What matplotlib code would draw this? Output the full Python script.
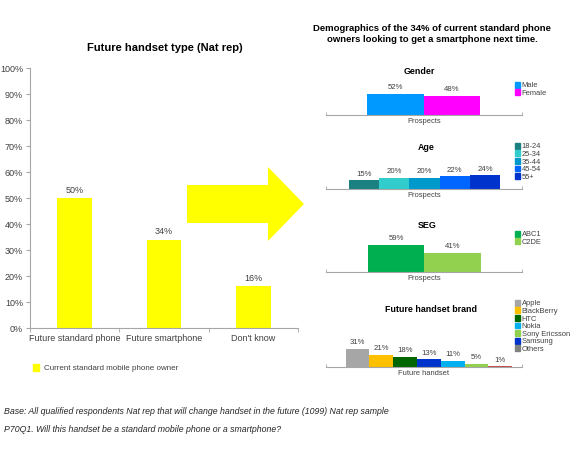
import matplotlib
matplotlib.use("Agg")
import matplotlib.pyplot as plt
from matplotlib.patches import Polygon, Patch

plt.rcParams['font.family'] = ['Liberation Sans', 'DejaVu Sans']

W, H = 570, 450

# Main chart data
main_categories = ["Future standard phone", "Future smartphone", "Don't know"]
main_values = [50, 34, 16]
main_series = "Current standard mobile phone owner"

# Demographic breakdowns
gender_labels = ["Male", "Female"]
gender_values = [52, 48]
gender_colors = ["#0099FF", "#FF00FF"]

age_labels = ["18-24", "25-34", "35-44", "45-54", "55+"]
age_values = [15, 20, 20, 22, 24]
age_colors = ["#1A8080", "#33CCCC", "#0099CC", "#0066FF", "#0033CC"]

seg_labels = ["ABC1", "C2DE"]
seg_values = [59, 41]
seg_colors = ["#00B050", "#92D050"]

brand_bar_values = [31, 21, 18, 13, 11, 5, 1]
brand_bar_colors = ["#A6A6A6", "#FFC000", "#006600", "#0033CC", "#00B0F0", "#92D050", "#C0504D"]
brand_labels = ["Apple", "BlackBerry", "HTC", "Nokia", "Sony Ericsson", "Samsung", "Others"]
brand_colors = ["#A6A6A6", "#FFC000", "#006600", "#00B0F0", "#92D050", "#0033CC", "#808080"]

GREY = "#404040"
AXC = "#A6A6A6"


def box(x0, y0, x1, y1):
    return [x0 / W, 1 - y1 / H, (x1 - x0) / W, (y1 - y0) / H]


def fx(x):
    return x / W


def fy(y):
    return 1 - y / H


fig = plt.figure(figsize=(W / 100, H / 100), dpi=100)
fig.patch.set_facecolor("white")

# ---- left chart ----
ax = fig.add_axes(box(30, 68, 298, 328))
xs = range(len(main_values))
ax.bar(xs, main_values, width=0.39, color="#FFFF00", label=main_series)
for x, v in zip(xs, main_values):
    ax.annotate(f"{v}%", (x, v), xytext=(0, 2.5), textcoords="offset points",
                ha="center", va="bottom", fontsize=6.5, color=GREY)
ax.set_xlim(-0.5, 2.5)
ax.set_ylim(0, 100)
ax.set_yticks(range(0, 101, 10))
ax.set_yticklabels([f"{t}%" for t in range(0, 101, 10)], fontsize=6.5, color=GREY)
ax.set_xticks(list(xs))
ax.set_xticklabels(main_categories, fontsize=6.5, color=GREY)
ax.set_xticks([-0.5, 0.5, 1.5, 2.5], minor=True)
ax.tick_params(axis="x", which="major", length=0, pad=4)
ax.tick_params(axis="x", which="minor", length=3, color=AXC, direction="out")
ax.tick_params(axis="y", length=3, color=AXC, pad=2)
for s in ["top", "right"]:
    ax.spines[s].set_visible(False)
for s in ["left", "bottom"]:
    ax.spines[s].set_color(AXC)
    ax.spines[s].set_linewidth(0.8)
fig.text(fx(165), fy(48), "Future handset type (Nat rep)", ha="center", va="center",
         fontsize=8.0, fontweight="bold")
fig.legend(handles=[Patch(color="#FFFF00", label=main_series)], loc="center left",
           bbox_to_anchor=(fx(29), fy(368)), frameon=False, fontsize=5.8,
           handlelength=0.8, handleheight=0.9, handletextpad=0.5, borderpad=0,
           labelcolor=GREY)

# ---- arrow ----
arrow = Polygon([(fx(187), fy(185)), (fx(268), fy(185)), (fx(268), fy(167)),
                 (fx(304), fy(204)), (fx(268), fy(241)), (fx(268), fy(223)),
                 (fx(187), fy(223))], closed=True, transform=fig.transFigure,
                facecolor="#FFFF00", edgecolor="none")
fig.patches.append(arrow)

# ---- right side ----
fig.text(fx(432), fy(34), "Demographics of the 34% of current standard phone\n"
         "owners looking to get a smartphone next time.", ha="center", va="center",
         fontsize=6.8, fontweight="bold", linespacing=1.3)


def mini(baseline, scale, x0, x1, values, colors, title, title_xy, xlabel,
         labels, lcolors, leg_top):
    a = fig.add_axes(box(326, baseline - 30, 522, baseline))
    n = len(values)
    bw = (x1 - x0) / n
    lefts = [x0 + i * bw for i in range(n)]
    a.bar(lefts, values, width=bw, align="edge", color=colors)
    for l, v in zip(lefts, values):
        a.annotate(f"{v}%", (l + bw / 2, v), xytext=(0, 2), textcoords="offset points",
                   ha="center", va="bottom", fontsize=5.6, color=GREY)
    a.set_xlim(0, 1)
    a.set_ylim(0, 30 / scale)
    a.set_yticks([])
    a.set_xticks([0.5])
    a.set_xticklabels([xlabel], fontsize=5.4, color=GREY)
    a.set_xticks([0, 1], minor=True)
    a.tick_params(axis="x", which="major", length=0, pad=2.5)
    a.tick_params(axis="x", which="minor", length=2.5, direction="in", color=AXC)
    for s in ["top", "right", "left"]:
        a.spines[s].set_visible(False)
    a.spines["bottom"].set_color(AXC)
    a.spines["bottom"].set_linewidth(0.8)
    a.patch.set_alpha(0)
    fig.text(fx(title_xy[0]), fy(title_xy[1]), title, ha="center", va="center",
             fontsize=6.4, fontweight="bold")
    handles = [Patch(color=c, label=lab) for lab, c in zip(labels, lcolors)]
    fig.legend(handles=handles, loc="upper left", bbox_to_anchor=(fx(511), fy(leg_top)),
               frameon=False, fontsize=5.4, handlelength=0.7, handleheight=0.85,
               handletextpad=0.2, labelspacing=0.0, borderpad=0, labelcolor=GREY)


mini(115, 0.404, 0.209, 0.786, gender_values, gender_colors, "Gender", (419, 71),
     "Prospects", gender_labels, gender_colors, 78)
mini(189, 0.57, 0.117, 0.888, age_values, age_colors, "Age", (426, 147),
     "Prospects", age_labels, age_colors, 139)
mini(272, 0.46, 0.214, 0.79, seg_values, seg_colors, "SEG", (427, 225),
     "Prospects", seg_labels, seg_colors, 227)
mini(367, 0.58, 0.10, 0.95, brand_bar_values, brand_bar_colors, "Future handset brand",
     (431, 310), "Future handset", brand_labels, brand_colors, 296)

# ---- footnotes ----
fig.text(fx(4), fy(412), "Base: All qualified respondents Nat rep that will change handset "
         "in the future (1099) Nat rep sample", ha="left", va="center", fontsize=6.3,
         style="italic", color="#262626")
fig.text(fx(4), fy(429), "P70Q1. Will this handset be a standard mobile phone or a smartphone?",
         ha="left", va="center", fontsize=6.3, style="italic", color="#262626")

fig.savefig("out.png", dpi=100)
